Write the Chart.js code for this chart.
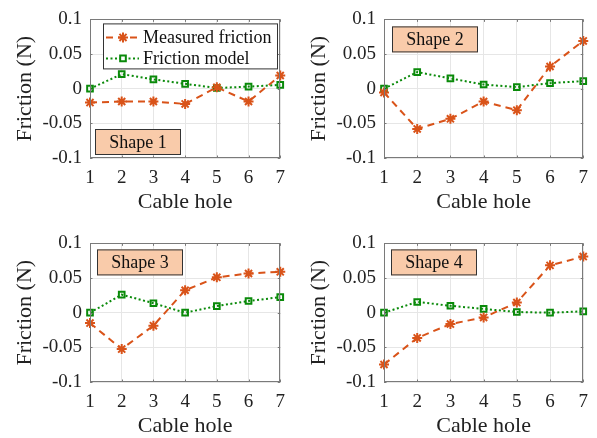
<!DOCTYPE html>
<html>
<head>
<meta charset="utf-8">
<script src="https://cdn.jsdelivr.net/npm/chart.js@4"></script>
<style>
  html, body { margin: 0; padding: 0; background: #fff; overflow: hidden; }
  #wrap { position: relative; width: 597px; height: 438px; }
  .cell { position: absolute; }
</style>
</head>
<body>
<div id="wrap">
  <div class="cell" style="left:0;top:0;width:294px;height:218px"><canvas id="c1"></canvas></div>
  <div class="cell" style="left:294px;top:0;width:303px;height:218px"><canvas id="c2"></canvas></div>
  <div class="cell" style="left:0;top:224px;width:294px;height:218px"><canvas id="c3"></canvas></div>
  <div class="cell" style="left:294px;top:224px;width:303px;height:218px"><canvas id="c4"></canvas></div>
</div>
<script>
/* four friction panels: measured vs. model, per shape */
var HOLES = [1, 2, 3, 4, 5, 6, 7];
var SHAPES = ['Shape 1', 'Shape 2', 'Shape 3', 'Shape 4'];

// measured friction (N)
var MEAS_1 = [-0.020, -0.0185, -0.0185, -0.022, 0.002, -0.0185, 0.019];
var MEAS_2 = [-0.0055, -0.058, -0.0435, -0.0185, -0.031, 0.032, 0.069];
var MEAS_3 = [-0.015, -0.0525, -0.0187, 0.0324, 0.051, 0.0566, 0.059];
var MEAS_4 = [-0.0747, -0.0364, -0.0164, -0.0068, 0.0146, 0.0683, 0.081];
// friction model (N)
var MODEL_1 = [0, 0.021, 0.0135, 0.007, 0.001, 0.003, 0.0055];
var MODEL_2 = [0, 0.024, 0.0148, 0.006, 0.0023, 0.008, 0.011];
var MODEL_3 = [0, 0.026, 0.0137, 0, 0.0096, 0.0169, 0.0224];
var MODEL_4 = [0, 0.0155, 0.010, 0.0055, 0.001, 0, 0.002];

var Y_MIN = -0.1, Y_MAX = 0.1, Y_STEP = 0.05;
var LEG_MEAS = 'Measured friction', LEG_MODEL = 'Friction model';
var X_TITLE = 'Cable hole', Y_TITLE = 'Friction (N)';

var ORANGE = '#D95319', GREEN = '#0A8A0A', BOX = '#7a7a7a', GRID = '#e6e6e6',
    PEACH = '#F9CBAA', TXT = '#222', SERIF = "'Liberation Serif', 'DejaVu Serif', serif";

// box, inward ticks, shape tag and (panel 1) legend
var decor = {
  id: 'decor',
  afterDatasetsDraw: function (chart, args, o) {
    var ctx = chart.ctx, a = chart.chartArea;
    var xs = chart.scales.x, ys = chart.scales.y;
    ctx.save();
    ctx.strokeStyle = BOX; ctx.lineWidth = 1;
    ctx.strokeRect(Math.round(a.left) + .5, Math.round(a.top) + .5,
                   Math.round(a.right - a.left) - 1, Math.round(a.bottom - a.top) - 1);
    ctx.beginPath();
    xs.ticks.forEach(function (t, i) {
      var px = Math.round(xs.getPixelForTick(i)) + .5;
      ctx.moveTo(px, a.bottom); ctx.lineTo(px, a.bottom - 2.5);
      ctx.moveTo(px, a.top); ctx.lineTo(px, a.top + 2.5);
    });
    ys.ticks.forEach(function (t, i) {
      var py = Math.round(ys.getPixelForTick(i)) + .5;
      ctx.moveTo(a.left, py); ctx.lineTo(a.left + 2.5, py);
      ctx.moveTo(a.right, py); ctx.lineTo(a.right - 2.5, py);
    });
    ctx.stroke();

    // shape tag
    var tx = a.left + o.tagDx, ty = o.tagBottom ? a.bottom - 29 : a.top + o.tagDy;
    ctx.fillStyle = PEACH; ctx.fillRect(tx, ty, 86, 26);
    ctx.strokeStyle = '#333'; ctx.strokeRect(tx + .5, ty + .5, 85, 25);
    ctx.fillStyle = '#111'; ctx.font = '18px ' + SERIF;
    ctx.textAlign = 'center'; ctx.textBaseline = 'middle';
    ctx.fillText(o.tag, tx + 43, ty + 14);

    if (o.legend) {
      var lx = a.left + 13, ly = a.top + 4;
      ctx.fillStyle = '#fff'; ctx.fillRect(lx, ly, 175, 46);
      ctx.strokeStyle = '#333'; ctx.strokeRect(lx + .5, ly + .5, 174, 45);
      var rows = [[LEG_MEAS, ORANGE, [7, 5], 'star'], [LEG_MODEL, GREEN, [2, 2.5], 'rect']];
      rows.forEach(function (r, i) {
        var cy = ly + 14 + i * 21;
        ctx.strokeStyle = r[1]; ctx.lineWidth = 2; ctx.setLineDash(r[2]);
        ctx.beginPath(); ctx.moveTo(lx + 3, cy); ctx.lineTo(lx + 36, cy); ctx.stroke();
        ctx.setLineDash([]);
        ctx.fillStyle = '#fff';
        Chart.helpers.drawPoint(ctx, { pointStyle: r[3], radius: r[3] === 'star' ? 5 : 4,
          borderWidth: 2, rotation: 0 }, lx + 20, cy);
        ctx.fillStyle = '#111'; ctx.font = '18px ' + SERIF;
        ctx.textAlign = 'left'; ctx.textBaseline = 'middle';
        ctx.fillText(r[0], lx + 40, cy + 1);
      });
    }
    ctx.restore();
  }
};

function panel(id, meas, model, tag, opts) {
  var tickFont = { family: SERIF, size: 19 }, titleFont = { family: SERIF, size: 22 };
  return new Chart(document.getElementById(id), {
    type: 'line',
    data: {
      labels: HOLES,
      datasets: [
        { label: LEG_MEAS, data: meas, borderColor: ORANGE, borderWidth: 2, borderDash: [7, 5],
          pointStyle: 'star', pointRadius: 5, pointBorderWidth: 2, pointBorderColor: ORANGE,
          fill: false, tension: 0, clip: false },
        { label: LEG_MODEL, data: model, borderColor: GREEN, borderWidth: 2, borderDash: [2, 2.5],
          pointStyle: 'rect', pointRadius: 4, pointBorderWidth: 2, pointBorderColor: GREEN,
          pointBackgroundColor: 'rgba(255,255,255,0)', fill: false, tension: 0, clip: false }
      ]
    },
    options: {
      responsive: true, maintainAspectRatio: false, animation: false,
      layout: { padding: { top: opts.top, right: opts.right, left: 0, bottom: 0 } },
      plugins: { legend: { display: false }, tooltip: { enabled: false },
        decor: { tag: tag, legend: !!opts.legend, tagDx: opts.tagDx, tagDy: opts.tagDy, tagBottom: !!opts.tagBottom } },
      scales: {
        x: { type: 'category', offset: false,
          afterFit: function (s) { s.height = 60; },
          grid: { color: GRID, drawTicks: false }, border: { display: false },
          ticks: { font: tickFont, color: TXT, padding: 9, maxRotation: 0 },
          title: { display: true, text: X_TITLE, font: titleFont, color: TXT, padding: { top: 0, bottom: 3 } } },
        y: { min: Y_MIN, max: Y_MAX,
          afterFit: function (s) { s.width = 90; },
          grid: { color: GRID, drawTicks: false }, border: { display: false },
          ticks: { stepSize: Y_STEP, font: tickFont, color: TXT, padding: 8,
            callback: function (v) { return String(+v.toFixed(2)); } },
          title: { display: true, text: Y_TITLE, font: titleFont, color: TXT, padding: { top: 12, bottom: 0 } } }
      }
    },
    plugins: [decor]
  });
}

panel('c1', MEAS_1, MODEL_1, SHAPES[0], { top: 13, right: 2, legend: true, tagDx: 5, tagBottom: true });
panel('c2', MEAS_2, MODEL_2, SHAPES[1], { top: 13, right: 12, tagDx: 8, tagDy: 7 });
panel('c3', MEAS_3, MODEL_3, SHAPES[2], { top: 14, right: 2, tagDx: 7, tagDy: 6 });
panel('c4', MEAS_4, MODEL_4, SHAPES[3], { top: 14, right: 12, tagDx: 7, tagDy: 6 });
</script>
</body>
</html>
